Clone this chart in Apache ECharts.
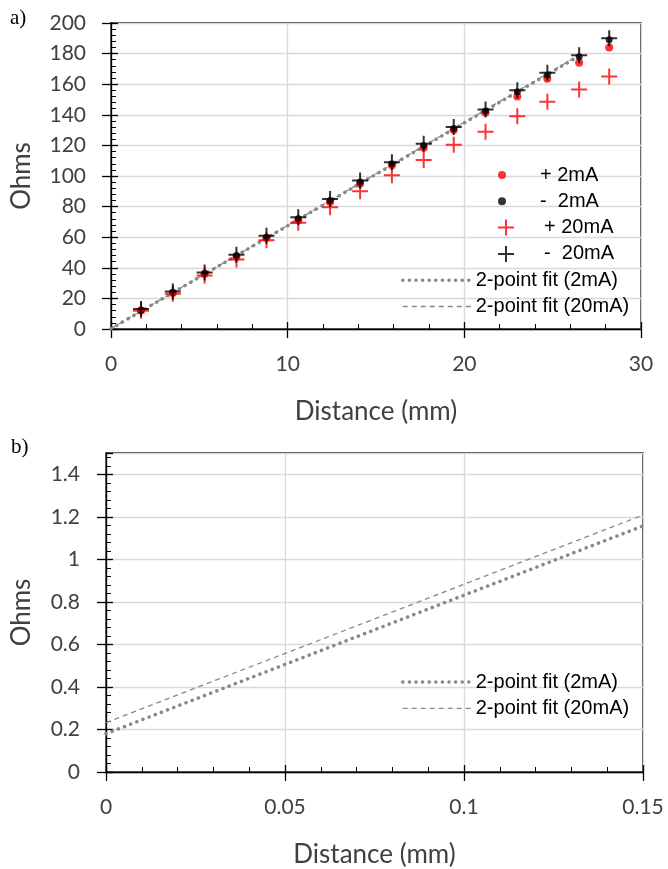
<!DOCTYPE html>
<html><head><meta charset="utf-8">
<script src="https://cdn.jsdelivr.net/npm/echarts@6/dist/echarts.min.js"></script>
<style>html,body{margin:0;padding:0;background:#fff}#c{width:668px;height:869px}</style>
</head><body><div id="c"></div>
<script>
// ---- data (panel a) ----
const distance = [1.7, 3.5, 5.3, 7.1, 8.8, 10.6, 12.4, 14.1, 15.9, 17.7, 19.4, 21.2, 23.0, 24.7, 26.5, 28.2];
const plus2mA   = [12, 23.5, 36, 47, 59.5, 71, 83, 95, 107, 118.5, 130, 141.5, 152, 163.5, 174, 184];
const minus2mA  = [12.5, 24, 36.5, 48, 60, 72, 84, 96, 108, 120, 131, 142.5, 155, 166, 178, 189];
const plus20mA  = [12, 23, 35, 45.5, 58, 69.5, 79.5, 90, 100.5, 110.5, 120.5, 129, 139, 148.5, 156.5, 165];
const minus20mA = [13, 24.5, 37, 48.5, 61, 73, 85, 97, 109, 121, 132, 143.5, 156, 167.5, 179, 190];
const fitX      = [0, 26.5];
const fit2mA    = [0.18, 178.5];
const fit20mA   = [0.23, 179];
// ---- data (panel b) ----
const zoomFitX    = [0, 0.15];
const zoomFit2mA  = [0.18, 1.157];
const zoomFit20mA = [0.232, 1.208];
// ---- tick values ----
const topXTicks = [0, 10, 20, 30];
const topYTicks = [0, 20, 40, 60, 80, 100, 120, 140, 160, 180, 200];
const botXTicks = [0, 0.05, 0.1, 0.15];
const botYTicks = [0, 0.2, 0.4, 0.6, 0.8, 1, 1.2, 1.4];

const pairs = (xs, ys) => xs.map((x, i) => [x, ys[i]]);

const AXIS_FONT = 'Lato, "Open Sans", sans-serif';
const LEG_FONT = '"Liberation Sans", Arial, sans-serif';
const PLUS = 'path://M7,0h2v16h-2z M0,7h16v2h-16z';

function mainAxis(grid, pos, min, max, interval, name, nameGap, labelMargin, fmt) {
  return {
    type: 'value', gridIndex: grid, position: pos, min: min, max: max, interval: interval,
    name: name, nameLocation: 'middle', nameGap: nameGap,
    nameTextStyle: { fontFamily: AXIS_FONT, fontSize: 26, color: '#404040' },
    axisLine: { show: true, onZero: false, lineStyle: { color: '#000', width: 1.3 } },
    axisTick: { show: true, inside: true, length: 7, lineStyle: { color: '#000', width: 1.3 } },
    minorTick: { show: true, splitNumber: 5, length: 5, lineStyle: { color: '#000', width: 1 } },
    splitLine: { show: true, lineStyle: { color: '#d9d9d9', width: 1.3 } },
    axisLabel: { fontFamily: AXIS_FONT, fontSize: 21, color: '#404040', margin: labelMargin, formatter: fmt }
  };
}
function tickAxis(grid, pos, min, max, interval, ticks) {
  return {
    type: 'value', gridIndex: grid, position: pos, min: min, max: max, interval: interval,
    axisLine: { show: false }, axisLabel: { show: false }, splitLine: { show: false },
    axisTick: { show: true, inside: false, length: 9, customValues: ticks, lineStyle: { color: '#000', width: 1.3 } }
  };
}
const fmtB = v => (v > 1.45 ? '' : String(+v.toFixed(2)));

const dotted = { color: '#888888', width: 3.5, type: [0.1, 6.5], cap: 'round' };
const dashed = { color: '#888888', width: 1.3, type: [5, 4] };

const legendText = { fontFamily: LEG_FONT, fontSize: 20, lineHeight: 20, color: '#000' };
const fitLegendData = [
  { name: '2-point fit (2mA)', itemStyle: { opacity: 0 }, lineStyle: { color: '#888888', width: 3.5, type: [0.1, 6.5], cap: 'round' } },
  { name: '2-point fit (20mA)', itemStyle: { opacity: 0 }, lineStyle: { color: '#888888', width: 1.3, type: [5, 4] } }
];
const panelLabel = { fontFamily: '"Liberation Serif", serif', fontSize: 21, fontWeight: 'normal', color: '#000' };

const option = {
  animation: false,
  backgroundColor: '#fff',
  title: [
    { text: 'a)', left: 5, top: 3, textStyle: panelLabel },
    { text: 'b)', left: 6, top: 432, textStyle: panelLabel }
  ],
  grid: [
    { left: 111, right: 27, top: 23, height: 306, show: true, borderColor: '#000', borderWidth: 1.3, backgroundColor: 'transparent' },
    { left: 106, right: 25, top: 453, height: 321, show: true, borderColor: '#000', borderWidth: 1.3, backgroundColor: 'transparent' }
  ],
  xAxis: [
    mainAxis(0, 'bottom', 0, 30, 10, 'Distance (mm)', 70, 25),
    tickAxis(0, 'bottom', 0, 30, 10, topXTicks),
    mainAxis(1, 'bottom', 0, 0.15, 0.05, 'Distance (mm)', 70, 25),
    tickAxis(1, 'bottom', 0, 0.15, 0.05, botXTicks)
  ],
  yAxis: [
    mainAxis(0, 'left', 0, 200, 20, 'Ohms', 76, 25),
    tickAxis(0, 'left', 0, 200, 20, topYTicks),
    mainAxis(1, 'left', 0, 1.5, 0.2, 'Ohms', 71, 26, fmtB),
    tickAxis(1, 'left', 0, 1.5, 0.2, botYTicks)
  ],
  legend: [
    { data: ['+ 2mA', '-  2mA'], orient: 'vertical', align: 'left', left: 493, top: 160, itemWidth: 66, itemHeight: 8, itemGap: 6.3, selectedMode: false, textStyle: legendText },
    { data: ['+ 20mA', '-  20mA'], orient: 'vertical', align: 'left', left: 493, top: 212.6, itemWidth: 66, itemHeight: 16, itemGap: 6.3, selectedMode: false, textStyle: legendText },
    { data: fitLegendData, orient: 'vertical', align: 'left', left: 396, top: 265.2, itemWidth: 68, itemHeight: 16, itemGap: 6.3, selectedMode: false, textStyle: legendText },
    { data: fitLegendData, orient: 'vertical', align: 'left', left: 396, top: 667, itemWidth: 68, itemHeight: 16, itemGap: 6.3, selectedMode: false, textStyle: legendText }
  ],
  series: [
    { name: '2-point fit (2mA)', type: 'line', xAxisIndex: 0, yAxisIndex: 0, data: pairs(fitX, fit2mA), symbol: 'none', itemStyle: { color: '#888888' }, lineStyle: dotted, z: 2 },
    { name: '2-point fit (20mA)', type: 'line', xAxisIndex: 0, yAxisIndex: 0, data: pairs(fitX, fit20mA), symbol: 'none', itemStyle: { color: '#888888' }, lineStyle: dashed, z: 2 },
    { name: '+ 2mA', type: 'scatter', xAxisIndex: 0, yAxisIndex: 0, data: pairs(distance, plus2mA), symbol: 'circle', symbolSize: 8, itemStyle: { color: '#ff0000' }, z: 3 },
    { name: '-  2mA', type: 'scatter', xAxisIndex: 0, yAxisIndex: 0, data: pairs(distance, minus2mA), symbol: 'circle', symbolSize: 7, itemStyle: { color: '#000' }, z: 3 },
    { name: '+ 20mA', type: 'scatter', xAxisIndex: 0, yAxisIndex: 0, data: pairs(distance, plus20mA), symbol: PLUS, symbolSize: 16, itemStyle: { color: '#ff0000' }, z: 3 },
    { name: '-  20mA', type: 'scatter', xAxisIndex: 0, yAxisIndex: 0, data: pairs(distance, minus20mA), symbol: PLUS, symbolSize: 16, itemStyle: { color: '#000' }, z: 3 },
    { name: '2-point fit (2mA)', type: 'line', xAxisIndex: 2, yAxisIndex: 2, data: pairs(zoomFitX, zoomFit2mA), symbol: 'none', itemStyle: { color: '#888888' }, lineStyle: dotted, z: 2 },
    { name: '2-point fit (20mA)', type: 'line', xAxisIndex: 2, yAxisIndex: 2, data: pairs(zoomFitX, zoomFit20mA), symbol: 'none', itemStyle: { color: '#888888' }, lineStyle: dashed, z: 2 }
  ]
};
const chart = echarts.init(document.getElementById('c'), null, { renderer: 'canvas' });
chart.setOption(option);
</script>
</body></html>
